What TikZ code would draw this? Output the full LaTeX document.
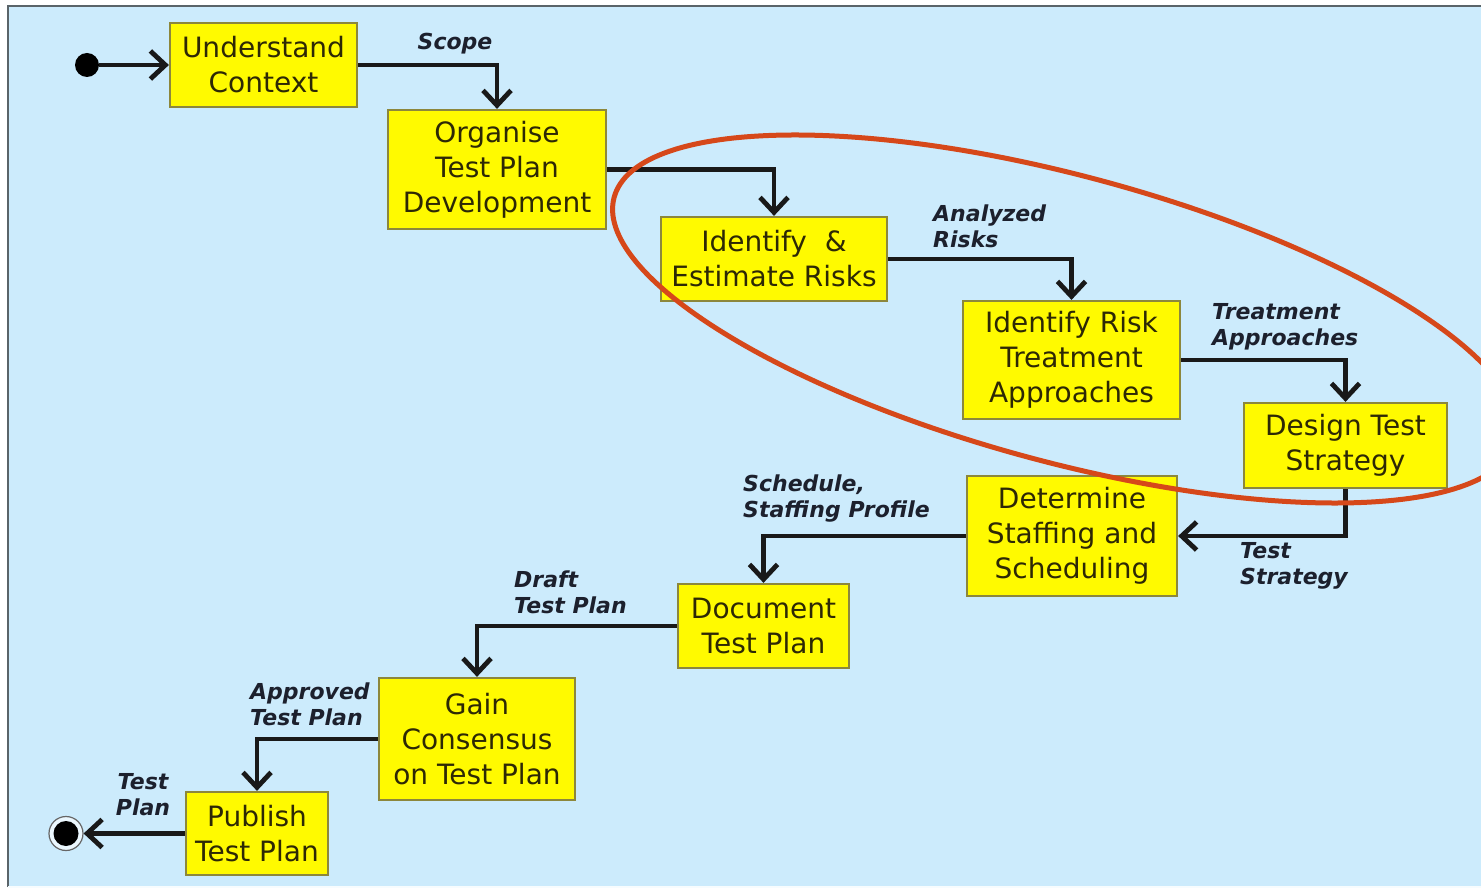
\documentclass[tikz,border=0pt]{standalone}
\usepackage{fontspec}
\setmainfont{DejaVu Sans}
\usetikzlibrary{arrows.meta}
\definecolor{bgblue}{RGB}{204,235,252}
\definecolor{boxyellow}{RGB}{255,250,0}
\definecolor{boxedge}{RGB}{140,135,60}
\definecolor{boxtext}{RGB}{45,40,5}
\definecolor{labeltext}{RGB}{28,32,45}
\definecolor{ringred}{RGB}{214,72,26}
\definecolor{frame}{RGB}{90,100,105}
\tikzset{
  stepbox/.style={draw=boxedge, line width=2.2pt, fill=boxyellow, text=boxtext,
    align=center, inner sep=0pt, font=\fontsize{28}{35}\selectfont},
  flow/.style={line width=4.8pt, draw=black!90,
    -{Straight Barb[length=15pt,width=28pt,line width=4.8pt]}},
  flowlabel/.style={text=labeltext, inner sep=0pt,
    font=\fontsize{22}{26}\selectfont\bfseries\itshape},
}
\begin{document}
\begin{tikzpicture}[x=1pt,y=-1pt]
\useasboundingbox (0,0) rectangle (1481,890);
\fill[white] (0,0) rectangle (1481,890);
\fill[bgblue] (8,6) rectangle (1481,887);
\draw[frame, line width=2pt] (8,887) -- (8,6) -- (1481,6);
\draw[white!85!bgblue, line width=2pt] (8,887) -- (1481,887);

% nodes
\node[stepbox, minimum width=187pt, minimum height=84pt] (uc) at (263.5,65) {Understand\\Context};
\node[stepbox, minimum width=218pt, minimum height=119pt] (otp) at (497,169.5) {Organise\\Test Plan\\Development};
\node[stepbox, minimum width=226pt, minimum height=84pt] (ier) at (774,259) {Identify~~\&\\Estimate Risks};
\node[stepbox, minimum width=217pt, minimum height=118pt] (irt) at (1071.5,360) {Identify Risk\\Treatment\\Approaches};
\node[stepbox, minimum width=203pt, minimum height=85pt] (dts) at (1345.5,445.5) {Design Test\\Strategy};
\node[stepbox, minimum width=210pt, minimum height=120pt] (dss) at (1072,536) {Determine\\Staffing and\\Scheduling};
\node[stepbox, minimum width=171pt, minimum height=84pt] (dtp) at (763.5,626) {Document\\Test Plan};
\node[stepbox, minimum width=196pt, minimum height=122pt] (gc) at (477,739) {Gain\\Consensus\\on Test Plan};
\node[stepbox, minimum width=142pt, minimum height=83pt] (ptp) at (257,833.5) {Publish\\Test Plan};

% start and end
\node[circle, fill=black, minimum size=24pt, inner sep=0pt] (start) at (87,65) {};
\node[circle, draw=gray!80!black, line width=1.2pt, fill=white!60!bgblue, minimum size=34pt, inner sep=0pt] (finish) at (66,833.5) {};
\node[circle, fill=black, minimum size=25pt, inner sep=0pt] (finishdot) at (finish.center) {};

% connectors
\draw[flow] (start) -- (uc.west);
\draw[flow] (uc.east) -| (otp.north);
\draw[flow] (otp.east) -| (ier.north);
\draw[flow] (ier.east) -| (irt.north);
\draw[flow] (irt.east) -| (dts.north);
\draw[flow] (dts.south) |- (dss.east);
\draw[flow] (dss.west) -| (dtp.north);
\draw[flow] (dtp.west) -| (gc.north);
\draw[flow] (gc.west) -| (ptp.north);
\draw[flow] (ptp.west) -- (finish.east);

% labels
\node[flowlabel] (lscope) at (455,44) {Scope};
\node[flowlabel, anchor=west, align=left] (lrisk) at (933,226) {Analyzed\\Risks};
\node[flowlabel, anchor=west, align=left] (ltreat) at (1212,327) {Treatment\\Approaches};
\node[flowlabel, anchor=west, align=left] (lstrat) at (1240,566) {Test\\Strategy};
\node[flowlabel, anchor=west, align=left] (lsched) at (743,499) {Schedule,\\Staffing Profile};
\node[flowlabel, anchor=west, align=left] (ldraft) at (514,592) {Draft\\Test Plan};
\node[flowlabel, anchor=west, align=left] (lappr) at (250,704) {Approved\\Test Plan};
\node[flowlabel, align=center] (lplan) at (143,795) {Test\\Plan};

% highlight ellipse
\begin{scope}
\clip (0,0) rectangle (1481,890);
\draw[ringred, line width=5pt, rotate around={-15.1:(1065,319)}]
  (1065,319) ellipse [x radius=467pt, y radius=143pt];
\end{scope}
\end{tikzpicture}
\end{document}
